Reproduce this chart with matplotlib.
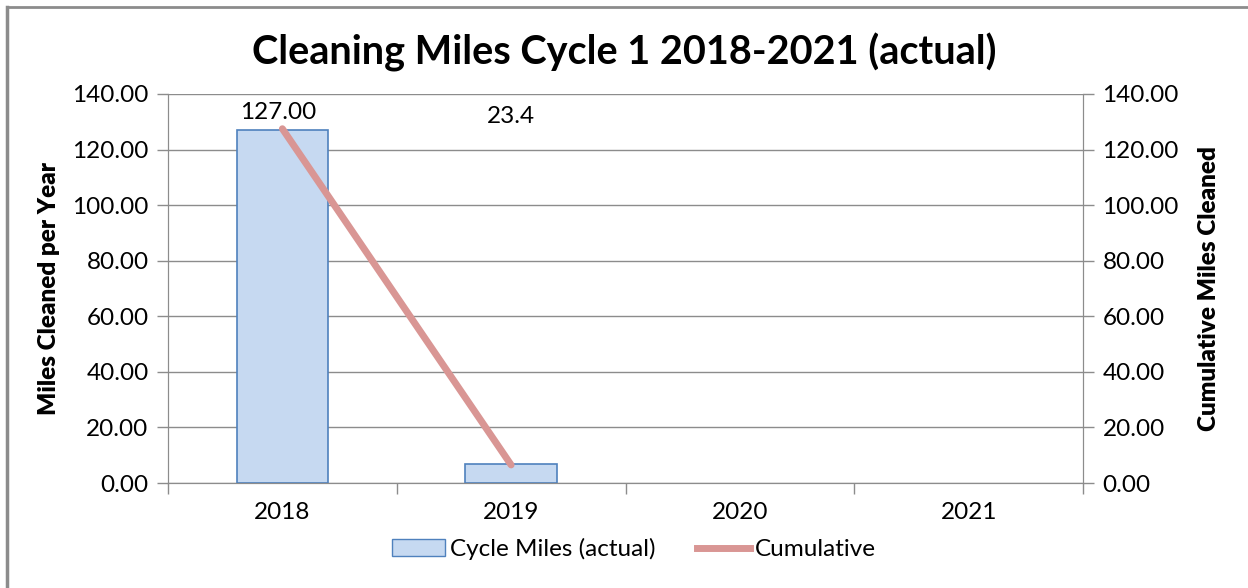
import numpy as np
import matplotlib.pyplot as plt
from matplotlib.lines import Line2D
from matplotlib.patches import Patch

years = ['2018', '2019', '2020', '2021']
cycle_miles = [127.0, 7.0, 0, 0]
cumulative = [127.5, 6.5]
bar_labels = ['127.00', '23.4']

plt.rcParams['font.family'] = ['Lato', 'DejaVu Sans']
fs = 17.5

fig = plt.figure(figsize=(12.48, 5.88), dpi=100)
ax = fig.add_axes([168 / 1248, 1 - 483 / 588, (1083 - 168) / 1248, (483 - 94) / 588])
ax2 = ax.twinx()

x = np.arange(len(years))
grey = '#8c8c8c'

ax.bar(x[:2], cycle_miles[:2], width=0.4, color='#c6d9f1', edgecolor='#4f81bd',
       linewidth=1.2, zorder=3)
ax2.plot(x[:2], cumulative, color='#d99694', linewidth=5, solid_capstyle='round', zorder=4)

ax.text(x[0] - 0.02, 133.5, bar_labels[0], ha='center', va='center', fontsize=fs)
ax.text(x[1], 132.0, bar_labels[1], ha='center', va='center', fontsize=fs)

for a in (ax, ax2):
    a.set_ylim(0, 140)
    a.set_yticks(np.arange(0, 141, 20))
    a.set_yticklabels([f'{v:.2f}' for v in np.arange(0, 141, 20)], fontsize=fs)
    a.tick_params(axis='y', length=8, color=grey, width=1, pad=6)
    for s in a.spines.values():
        s.set_color(grey)
    a.spines['top'].set_visible(False)

ax.set_xlim(-0.5, 3.5)
ax.set_xticks(x)
ax.set_xticklabels(years, fontsize=fs)
ax.set_xticks(np.arange(-0.5, 4, 1), minor=True)
ax.tick_params(axis='x', which='major', length=0, pad=14)
ax.tick_params(axis='x', which='minor', length=8, color=grey, width=1)
ax.yaxis.grid(True, color=grey, linewidth=1)
ax.set_axisbelow(True)

ax.set_ylabel('Miles Cleaned per Year', fontsize=fs, fontweight='heavy', labelpad=8.5)
ax2.set_ylabel('Cumulative Miles Cleaned', fontsize=fs, fontweight='heavy', labelpad=14)

fig.text(0.5, 1 - 52 / 588, 'Cleaning Miles Cycle 1 2018-2021 (actual)', ha='center',
         va='center', fontsize=28.5, fontweight='bold')

handles = [Patch(facecolor='#c6d9f1', edgecolor='#4f81bd', label='Cycle Miles (actual)'),
           Line2D([0], [0], color='#d99694', linewidth=5, label='Cumulative')]
fig.legend(handles=handles, loc='center', bbox_to_anchor=(0.508, 1 - 549 / 588), ncol=2,
           frameon=False, fontsize=fs, handlelength=2.2, handletextpad=0.2, columnspacing=1.7)

fig.add_artist(Line2D([7 / 1248, 7 / 1248], [0, 1 - 7 / 588], color=grey, linewidth=2.5))
fig.add_artist(Line2D([7 / 1248, 1], [1 - 7 / 588, 1 - 7 / 588], color=grey, linewidth=2))

fig.savefig('out.png', dpi=100)
